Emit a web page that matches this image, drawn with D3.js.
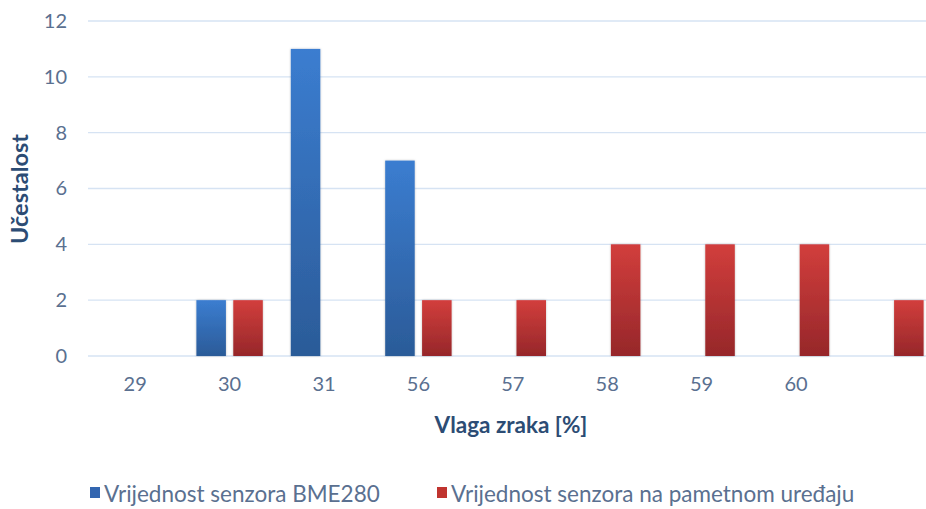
<!DOCTYPE html>
<html>
<head>
<meta charset="utf-8">
<script src="https://cdn.jsdelivr.net/npm/d3@7"></script>
<style>
  html, body { margin: 0; padding: 0; background: #fff; }
  svg { display: block; }
</style>
</head>
<body>
<svg id="chart" width="926" height="509"></svg>
<script>
// Humidity readings: frequency of each value per sensor
const categories = ["29", "30", "31", "56", "57", "58", "59", "60", ""];
const bme280 = [0, 2, 11, 7, 0, 0, 0, 0, 0];
const smartDevice = [0, 2, 0, 2, 2, 4, 4, 4, 2];
const yTicks = [0, 2, 4, 6, 8, 10, 12];
const seriesNames = ["Vrijednost senzora BME280", "Vrijednost senzora na pametnom uređaju"];

const font = "Lato, 'Open Sans', sans-serif";
const tickColor = "#5a7090";
const titleColor = "#2c4c74";
const gridColor = "#d6e3f3";

const svg = d3.select("#chart");
const defs = svg.append("defs");

function gradient(id, top, bottom) {
  const g = defs.append("linearGradient")
    .attr("id", id).attr("x1", 0).attr("y1", 0).attr("x2", 0).attr("y2", 1);
  g.append("stop").attr("offset", "0%").attr("stop-color", top);
  g.append("stop").attr("offset", "100%").attr("stop-color", bottom);
}
gradient("gBlue", "#3b7dd0", "#2b5b98");
gradient("gRed", "#d23e3c", "#96272a");

const shadow = defs.append("filter").attr("id", "shadow")
  .attr("x", "-20%").attr("y", "-5%").attr("width", "140%").attr("height", "110%");
shadow.append("feDropShadow").attr("dx", 0).attr("dy", 0).attr("stdDeviation", 1)
  .attr("flood-color", "#000").attr("flood-opacity", 0.25);

const left = 88, step = 94.4;
const x0 = d3.scaleBand()
  .domain(categories.map((c, i) => i))
  .range([left, left + step * categories.length])
  .padding(0);

const series = [
  { key: "bme", values: bme280, fill: "url(#gBlue)", swatch: "#3366b0" },
  { key: "smart", values: smartDevice, fill: "url(#gRed)", swatch: "#c0342f" }
];

const x1 = d3.scaleBand()
  .domain(series.map(s => s.key))
  .range([14, x0.bandwidth() - 14])
  .paddingInner(0.2)
  .paddingOuter(0);

const y = d3.scaleLinear().domain([0, 12]).range([356, 21]);

// Gridlines
svg.append("g")
  .selectAll("line")
  .data(yTicks)
  .join("line")
  .attr("x1", left).attr("x2", 926)
  .attr("y1", d => y(d)).attr("y2", d => y(d))
  .attr("stroke", gridColor).attr("stroke-width", 1.3);

// Y axis labels
const yAxis = d3.axisLeft(y).tickValues(yTicks).tickSize(0).tickPadding(0);
svg.append("g")
  .attr("transform", "translate(67,0)")
  .call(yAxis)
  .call(g => g.select(".domain").remove())
  .call(g => g.selectAll("text")
    .attr("fill", tickColor).attr("font-family", font).attr("font-size", 20));

// X axis labels
const xAxis = d3.axisBottom(x0).tickFormat(i => categories[i]).tickSize(0).tickPadding(0);
svg.append("g")
  .attr("transform", "translate(0,377)")
  .call(xAxis)
  .call(g => g.select(".domain").remove())
  .call(g => g.selectAll("text")
    .attr("fill", tickColor).attr("font-family", font).attr("font-size", 20));

// Bars
series.forEach(s => {
  svg.append("g")
    .selectAll("rect")
    .data(s.values.map((v, i) => ({ i, v })).filter(d => d.v > 0))
    .join("rect")
    .attr("x", d => x0(d.i) + x1(s.key))
    .attr("width", x1.bandwidth())
    .attr("y", d => y(d.v))
    .attr("height", d => y(0) - y(d.v))
    .attr("fill", s.fill)
    .attr("filter", "url(#shadow)");
});

// Axis titles
svg.append("text")
  .attr("transform", "translate(28,189) rotate(-90)")
  .attr("text-anchor", "middle")
  .attr("font-family", font).attr("font-weight", "bold").attr("font-size", 23.5)
  .attr("fill", titleColor)
  .text("Učestalost");

svg.append("text")
  .attr("x", 511).attr("y", 433)
  .attr("text-anchor", "middle")
  .attr("font-family", font).attr("font-weight", "bold").attr("font-size", 22.5)
  .attr("fill", titleColor)
  .text("Vlaga zraka [%]");

// Legend
const legendX = [90, 437];
const legend = svg.append("g");
series.forEach((s, i) => {
  const g = legend.append("g").attr("transform", `translate(${legendX[i]},0)`);
  g.append("rect").attr("x", 0).attr("y", 487).attr("width", 10).attr("height", 11)
    .attr("fill", s.swatch);
  g.append("text").attr("x", 14).attr("y", 502)
    .attr("font-family", font).attr("font-size", 22.5).attr("fill", tickColor)
    .text(seriesNames[i]);
});
</script>
</body>
</html>
